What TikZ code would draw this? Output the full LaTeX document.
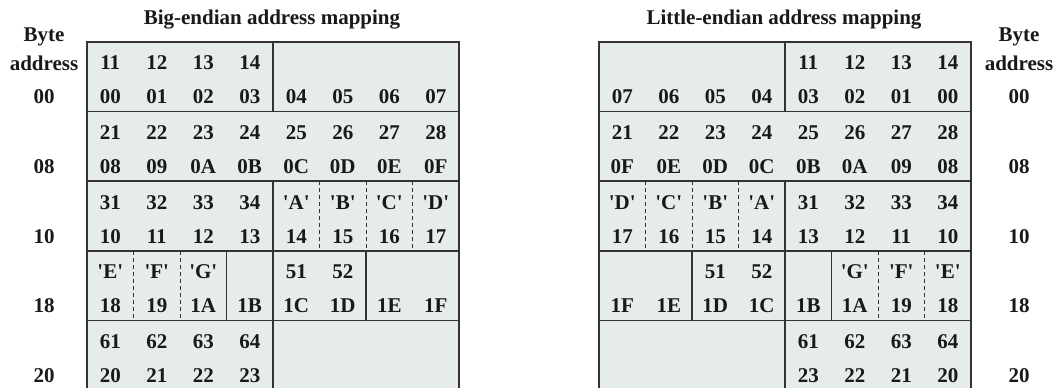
\documentclass[tikz,border=0pt]{standalone}
\usepackage{fontspec}
\setmainfont{Liberation Serif}
\usepackage{xcolor}
\definecolor{cellfill}{HTML}{E6ECEC}
\definecolor{rulecolor}{HTML}{333333}
\colorlet{textcolor}{black!90}
\usepackage{tikz}
\newcommand{\q}[1]{\textquotesingle#1\textquotesingle}
\tikzset{
    text=textcolor,
    % Byte cells and labels
    bytetext/.style={ font=\bfseries\fontsize{21}{23}\selectfont, inner sep=0pt },
    heading/.style={ font=\bfseries\fontsize{21}{23}\selectfont, inner sep=0pt },
    % Frame, word borders and byte borders
    memframe/.style={ draw=rulecolor, line width=1.6pt },
    bytesplit/.style={ draw=rulecolor, line width=1pt, dash pattern=on 4pt off 3pt },
}

\begin{document}
\begin{tikzpicture}[x=1pt, y=-1pt]
    \useasboundingbox (0,0) rectangle (1055,388);
    \clip (0,0) rectangle (1055,388);

    % Big-endian
    \node[heading] (be-title) at (272,20) {Big-endian address mapping};
    \node[heading] (be-byte) at (44,37) {Byte};
    \node[heading] (be-address) at (44,63) {address};
    \fill[cellfill] (87,42) rectangle (459,390);
    \draw[memframe] (87,390) -- (87,42) -- (459,42) -- (459,390);
    \foreach \s in {1,...,4}
        \draw[memframe] (87,{42+69.6*\s}) -- (459,{42+69.6*\s});
    \foreach \b/\s in {4/0, 4/2, 3/3, 4/3, 6/3, 4/4}
        \draw[memframe] ({87+46.5*\b},{42+69.6*\s}) -- ++(0,69.6);
    \foreach \b/\s in {5/2, 6/2, 7/2, 1/3, 2/3}
        \draw[bytesplit] ({87+46.5*\b},{42+69.6*\s}) -- ++(0,69.6);
    \foreach \row [count=\s from 0] in {
        {11,12,13,14,{},{},{},{}},
        {21,22,23,24,25,26,27,28},
        {31,32,33,34,\q{A},\q{B},\q{C},\q{D}},
        {\q{E},\q{F},\q{G},{},51,52,{},{}},
        {61,62,63,64,{},{},{},{}}}
        \foreach \t [count=\c from 0] in \row
            \node[bytetext] (be-u\s-\c) at ({87+46.5*(\c+0.5)},{63+69.6*\s}) {\t};
    \foreach \row [count=\s from 0] in {
        {00,01,02,03,04,05,06,07},
        {08,09,0A,0B,0C,0D,0E,0F},
        {10,11,12,13,14,15,16,17},
        {18,19,1A,1B,1C,1D,1E,1F},
        {20,21,22,23,{},{},{},{}}}
        \foreach \t [count=\c from 0] in \row
            \node[bytetext] (be-l\s-\c) at ({87+46.5*(\c+0.5)},{97+69.6*\s}) {\t};
    \foreach \a [count=\s from 0] in {00,08,10,18,20}
        \node[heading] (be-addr\s) at (44,{97+69.6*\s}) {\a};

    % Little-endian
    \node[heading] (le-title) at (784,20) {Little-endian address mapping};
    \node[heading] (le-byte) at (1019,37) {Byte};
    \node[heading] (le-address) at (1019,63) {address};
    \fill[cellfill] (599,42) rectangle (971,390);
    \draw[memframe] (599,390) -- (599,42) -- (971,42) -- (971,390);
    \foreach \s in {1,...,4}
        \draw[memframe] (599,{42+69.6*\s}) -- (971,{42+69.6*\s});
    \foreach \b/\s in {4/0, 4/2, 2/3, 4/3, 5/3, 4/4}
        \draw[memframe] ({599+46.5*\b},{42+69.6*\s}) -- ++(0,69.6);
    \foreach \b/\s in {1/2, 2/2, 3/2, 6/3, 7/3}
        \draw[bytesplit] ({599+46.5*\b},{42+69.6*\s}) -- ++(0,69.6);
    \foreach \row [count=\s from 0] in {
        {{},{},{},{},11,12,13,14},
        {21,22,23,24,25,26,27,28},
        {\q{D},\q{C},\q{B},\q{A},31,32,33,34},
        {{},{},51,52,{},\q{G},\q{F},\q{E}},
        {{},{},{},{},61,62,63,64}}
        \foreach \t [count=\c from 0] in \row
            \node[bytetext] (le-u\s-\c) at ({599+46.5*(\c+0.5)},{63+69.6*\s}) {\t};
    \foreach \row [count=\s from 0] in {
        {07,06,05,04,03,02,01,00},
        {0F,0E,0D,0C,0B,0A,09,08},
        {17,16,15,14,13,12,11,10},
        {1F,1E,1D,1C,1B,1A,19,18},
        {{},{},{},{},23,22,21,20}}
        \foreach \t [count=\c from 0] in \row
            \node[bytetext] (le-l\s-\c) at ({599+46.5*(\c+0.5)},{97+69.6*\s}) {\t};
    \foreach \a [count=\s from 0] in {00,08,10,18,20}
        \node[heading] (le-addr\s) at (1019,{97+69.6*\s}) {\a};
\end{tikzpicture}
\end{document}
